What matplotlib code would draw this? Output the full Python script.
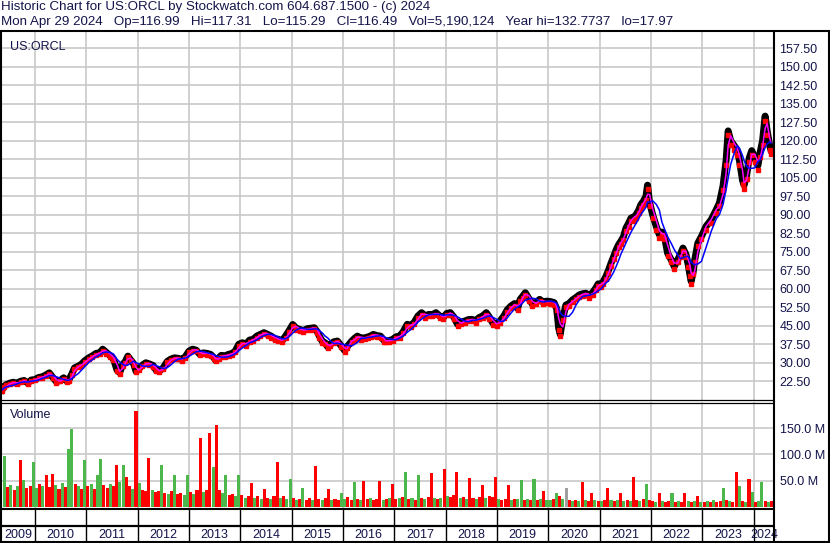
import matplotlib
matplotlib.use("Agg")
import matplotlib.pyplot as plt
import numpy as np
import pandas as pd

# ---------------- data ----------------
price_t = [2009.36, 2009.40, 2009.44, 2009.52, 2009.58, 2009.65, 2009.72, 2009.79, 2009.86, 2009.93,
           2010.00, 2010.07, 2010.14, 2010.21, 2010.28, 2010.35, 2010.42, 2010.49, 2010.56, 2010.62,
           2010.66, 2010.72, 2010.77, 2010.84, 2010.90, 2010.97, 2011.05, 2011.12, 2011.19, 2011.26,
           2011.32, 2011.39, 2011.46, 2011.53, 2011.60, 2011.65, 2011.71, 2011.76, 2011.81, 2011.87,
           2011.92, 2011.97, 2012.02, 2012.09, 2012.16, 2012.23, 2012.30, 2012.36, 2012.42, 2012.50,
           2012.58, 2012.65, 2012.72, 2012.79, 2012.86, 2012.93, 2013.00, 2013.07, 2013.14, 2013.21,
           2013.28, 2013.35, 2013.42, 2013.48, 2013.52, 2013.58, 2013.63, 2013.70, 2013.77, 2013.84,
           2013.90, 2013.97, 2014.04, 2014.11, 2014.18, 2014.25, 2014.32, 2014.39, 2014.46, 2014.53,
           2014.60, 2014.67, 2014.74, 2014.81, 2014.88, 2014.95, 2015.02, 2015.09, 2015.16, 2015.23,
           2015.30, 2015.37, 2015.44, 2015.50, 2015.54, 2015.60, 2015.65, 2015.70, 2015.75, 2015.82,
           2015.89, 2015.96, 2016.03, 2016.08, 2016.17, 2016.23, 2016.28, 2016.35, 2016.42, 2016.49,
           2016.55, 2016.59, 2016.66, 2016.73, 2016.80, 2016.83, 2016.90, 2016.97, 2017.03, 2017.10,
           2017.17, 2017.25, 2017.32, 2017.39, 2017.46, 2017.53, 2017.60, 2017.67, 2017.74, 2017.81,
           2017.88, 2017.95, 2018.02, 2018.09, 2018.16, 2018.23, 2018.30, 2018.37, 2018.44, 2018.51,
           2018.58, 2018.65, 2018.72, 2018.79, 2018.85, 2018.92, 2018.99, 2019.06, 2019.13, 2019.20,
           2019.27, 2019.34, 2019.40, 2019.45, 2019.50, 2019.55, 2019.62, 2019.69, 2019.76, 2019.83,
           2019.90, 2019.97, 2020.04, 2020.11, 2020.16, 2020.20, 2020.23, 2020.28, 2020.34, 2020.40,
           2020.47, 2020.54, 2020.60, 2020.67, 2020.73, 2020.80, 2020.86, 2020.92, 2020.97, 2021.02,
           2021.07, 2021.12, 2021.17, 2021.22, 2021.27, 2021.32, 2021.37, 2021.41, 2021.46, 2021.51,
           2021.56, 2021.61, 2021.66, 2021.71, 2021.76, 2021.80, 2021.85, 2021.90, 2021.93, 2021.97,
           2022.03, 2022.10, 2022.16, 2022.21, 2022.26, 2022.32, 2022.39, 2022.45, 2022.52, 2022.57,
           2022.62, 2022.68, 2022.72, 2022.75, 2022.78, 2022.82, 2022.85, 2022.91, 2022.98, 2023.07,
           2023.17, 2023.27, 2023.33, 2023.40, 2023.46, 2023.50, 2023.55, 2023.62, 2023.68, 2023.72,
           2023.78, 2023.81, 2023.86, 2023.91, 2023.96, 2024.02, 2024.08, 2024.12, 2024.17, 2024.22,
           2024.26, 2024.31, 2024.33]
price_close = [19.0, 20.5, 21.1, 21.8, 22.1, 21.6, 22.5, 22.8, 21.8, 23.0,
               23.2, 24.0, 24.3, 25.0, 25.9, 24.0, 22.3, 22.8, 23.9, 22.6,
               23.0, 25.5, 27.9, 28.6, 29.3, 30.8, 32.0, 32.8, 33.8, 34.0,
               35.5, 34.2, 33.0, 31.5, 27.0, 26.0, 29.3, 30.5, 32.7, 31.0,
               29.7, 26.5, 27.5, 29.0, 30.0, 29.5, 28.9, 27.0, 26.6, 28.0,
               30.6, 31.5, 32.0, 31.8, 31.3, 32.5, 34.7, 35.5, 35.1, 33.5,
               34.0, 33.8, 33.4, 32.2, 31.0, 32.0, 33.0, 32.8, 33.4, 33.8,
               34.7, 37.5, 38.1, 37.5, 39.2, 39.5, 40.8, 41.5, 42.2, 41.5,
               40.8, 39.8, 39.5, 38.8, 40.8, 43.0, 45.5, 44.0, 43.5, 43.0,
               43.8, 44.0, 44.2, 42.5, 40.8, 38.5, 38.1, 36.5, 37.4, 38.5,
               38.8, 37.0, 35.0, 36.5, 38.8, 40.0, 40.8, 40.0, 40.1, 40.5,
               41.0, 41.5, 41.0, 40.8, 39.0, 38.8, 39.0, 39.5, 40.5, 40.8,
               42.5, 45.6, 45.0, 46.5, 49.0, 50.3, 49.0, 49.6, 49.5, 50.3,
               49.0, 48.3, 50.0, 50.3, 48.5, 45.6, 46.5, 46.9, 47.5, 47.6,
               47.0, 48.3, 49.0, 50.3, 48.5, 46.0, 45.6, 47.0, 48.9, 51.5,
               53.0, 54.0, 52.0, 55.7, 57.0, 58.4, 56.0, 53.7, 54.5, 55.7,
               54.5, 55.0, 54.8, 54.4, 52.0, 44.0, 41.5, 48.0, 53.4, 54.0,
               55.5, 56.5, 57.5, 58.0, 58.2, 57.0, 58.5, 60.2, 62.0, 61.6,
               63.0, 65.0, 67.5, 70.4, 73.0, 75.8, 78.0, 79.2, 81.0, 84.6,
               86.5, 88.7, 89.0, 90.1, 92.0, 94.1, 95.5, 97.5, 102.0, 95.0,
               90.0, 85.3, 81.9, 83.0, 81.2, 74.5, 71.8, 69.0, 71.8, 74.0,
               76.5, 73.8, 70.0, 66.3, 63.0, 67.0, 71.8, 78.5, 81.2, 85.3,
               88.0, 92.1, 94.8, 101.6, 112.0, 124.0, 120.0, 118.0, 116.0, 112.0,
               104.0, 102.0, 106.0, 113.0, 116.0, 113.0, 110.0, 115.0, 120.0, 130.0,
               124.0, 118.0, 116.5]

# volume readings, 16 slots per year (millions); colour code g=up, r=down, x=flat
vol_2009 = [98, 38, 42, 33, 40, 90, 52, 36, 40, 86]  # slots 6..15
col_2009 = "grgrgrgrrg"
vol_years = {
    2010: ([36, 44, 40, 60, 38, 62, 42, 34, 45, 38, 110, 148, 44, 40, 35, 90], "grgrrrgrgrggrgrg"),
    2011: ([40, 44, 35, 60, 92, 42, 36, 44, 40, 80, 48, 80, 57, 40, 34, 182], "rgrggrrgrrggrrgr"),
    2012: ([45, 32, 30, 93, 32, 28, 30, 79, 27, 25, 30, 61, 25, 27, 23, 61], "grrrgrrgrgrgrrgg"),
    2013: ([28, 24, 32, 131, 28, 32, 140, 77, 156, 32, 27, 61, 23, 25, 21, 61], "rgrrgrrgrrggrrgg"),
    2014: ([22, 17, 20, 45, 17, 20, 15, 35, 17, 16, 20, 86, 17, 20, 16, 53], "rgrrgrgrrgrrgrgg"),
    2015: ([17, 14, 16, 36, 14, 17, 14, 78, 16, 14, 17, 34, 14, 16, 14, 26], "rgrgrrgrrgrrgrrg"),
    2016: ([16, 19, 14, 48, 16, 14, 49, 15, 17, 14, 16, 49, 14, 16, 17, 43], "grrgrgrrgrrrgrgr"),
    2017: ([16, 17, 19, 67, 16, 18, 14, 61, 17, 16, 19, 64, 17, 15, 18, 73], "rgrgrgrgrgrrgrgr"),
    2018: ([21, 19, 22, 66, 17, 19, 16, 56, 18, 16, 19, 42, 17, 21, 19, 57], "grrrgrgrrgrrgrrr"),
    2019: ([16, 14, 16, 42, 14, 16, 15, 51, 14, 16, 14, 54, 14, 16, 30, 14], "grrrgrggrgrgrgrg"),
    2020: ([14, 16, 26, 20, 15, 36, 14, 12, 14, 12, 47, 13, 12, 26, 13, 12], "grgrgxrgrgrgrrgr"),
    2021: ([12, 13, 36, 13, 12, 13, 26, 12, 13, 11, 57, 13, 11, 15, 43, 13], "grrgrgrgrgrrgrgr"),
    2022: ([11, 10, 26, 11, 10, 11, 26, 10, 11, 10, 26, 11, 10, 11, 20, 10], "rgrgrrgrgrrgrgrg"),
    2023: ([10, 11, 10, 13, 10, 11, 37, 13, 11, 10, 66, 40, 11, 10, 54, 29], "rgrgrrgrgrrgrgrg"),
    2024: ([9, 11, 47, 11, 9, 12], "rggrgr"),
}

price_ticks = [22.5, 30, 37.5, 45, 52.5, 60, 67.5, 75, 82.5, 90, 97.5, 105, 112.5,
               120, 127.5, 135, 142.5, 150, 157.5]
vol_ticks = [50e6, 100e6, 150e6]
years = list(range(2009, 2025))

header1 = "Historic Chart for US:ORCL by Stockwatch.com 604.687.1500 - (c) 2024"
header2 = ("Mon Apr 29 2024   Op=116.99   Hi=117.31   Lo=115.29   Cl=116.49   "
           "Vol=5,190,124   Year hi=132.7737   lo=17.97")

# ---------------- style ----------------
W, H = 830, 543
TXT = "#14144a"
GRID = "#c8c8c8"
FONT = "Liberation Sans"
plt.rcParams["font.family"] = [FONT, "DejaVu Sans"]
COLMAP = {"g": "#4cb84c", "r": "#ff0000", "x": "#a0a0a0"}

fig = plt.figure(figsize=(W / 100, H / 100), dpi=100)
fig.patch.set_facecolor("white")

XMIN, XMAX = 2009.359, 2024.393


def fx(px):
    return px / W


def fy(py):
    return 1 - py / H


ax = fig.add_axes([fx(2), fy(400), fx(772), (400 - 32) / H])
axv = fig.add_axes([fx(2), fy(508), fx(772), (508 - 402) / H], sharex=ax)
axd = fig.add_axes([fx(2), fy(543), fx(772), (543 - 508) / H], sharex=ax)

for a in (ax, axv, axd):
    for s in a.spines.values():
        s.set_visible(False)
    a.set_facecolor("white")

ax.set_xlim(XMIN, XMAX)
ax.set_ylim(14.9, 164.1)

for y in years[1:]:
    ax.axvline(y, color=GRID, lw=1.2, zorder=0)
    axv.axvline(y, color=GRID, lw=1.2, zorder=0)
for v in price_ticks:
    ax.axhline(v, color=GRID, lw=1.2, zorder=0)
for v in vol_ticks:
    axv.axhline(v, color=GRID, lw=1.2, zorder=0)

s = pd.Series(price_close, index=pd.to_datetime(
    [pd.Timestamp(int(t), 1, 1) + pd.Timedelta(days=(t - int(t)) * 365.25) for t in price_t]))
ma_fast = s.rolling("30D").mean()
ma_slow = s.rolling("95D").mean()

ax.plot(price_t, price_close, color="black", lw=5.0, solid_joinstyle="round", zorder=3)
ax.plot(price_t, np.array(price_close) * 0.985, ls="none", marker="s", ms=2.2,
        color="#ff0000", zorder=4)
ax.plot(price_t, ma_fast.values, color="#ff00ff", lw=1.1, zorder=5)
ax.plot(price_t, ma_slow.values, color="#0000ff", lw=1.1, zorder=6)

ax.yaxis.tick_right()
ax.set_yticks(price_ticks)
ax.set_yticklabels([f"{v:.2f}" for v in price_ticks])
ax.tick_params(axis="y", length=0, pad=4, labelsize=9, labelcolor=TXT)
ax.tick_params(axis="x", length=0, labelbottom=False)
ax.text(0.01, 0.975, "US:ORCL", transform=ax.transAxes, ha="left", va="top",
        fontsize=9, color=TXT)

# volume bars
SLOTS = 16
vt, vv, vc = [], [], []
for i, (v, c) in enumerate(zip(vol_2009, col_2009)):
    vt.append(2009 + (i + 6 + 0.5) / SLOTS)
    vv.append(v)
    vc.append(COLMAP[c])
for yr, (vals, cols) in vol_years.items():
    for i, (v, c) in enumerate(zip(vals, cols)):
        vt.append(yr + (i + 0.5) / SLOTS)
        vv.append(v)
        vc.append(COLMAP[c])

axv.set_ylim(-2e6, 200e6)
axv.bar(vt, np.array(vv) * 1e6, width=0.95 / SLOTS, color=vc, align="center", zorder=3,
        linewidth=0)
axv.yaxis.tick_right()
axv.set_yticks(vol_ticks)
axv.set_yticklabels([f"{v / 1e6:.1f} M" for v in vol_ticks])
axv.tick_params(axis="y", length=0, pad=4, labelsize=9, labelcolor=TXT)
axv.tick_params(axis="x", length=0, labelbottom=False)
axv.text(0.01, 0.93, "Volume", transform=axv.transAxes, ha="left", va="top",
         fontsize=9, color=TXT, zorder=5)

axd.set_ylim(0, 1)
axd.set_yticks([])
axd.tick_params(axis="x", length=0, labelbottom=False)
for y in years[1:]:
    axd.axvline(y, color="black", lw=1.0)
axd.axhline(0.5, color="black", lw=1.6)
for y in years:
    lo, hi = max(y, XMIN), min(y + 1, XMAX)
    axd.text((lo + hi) / 2, 0.24, str(y), ha="center", va="center", fontsize=9, color=TXT)

fig.text(fx(1), fy(7), header1, ha="left", va="center", fontsize=9.6, color=TXT)
fig.text(fx(1), fy(21.5), header2, ha="left", va="center", fontsize=9.6, color=TXT)

ov = fig.add_axes([0, 0, 1, 1], zorder=10)
ov.set_xlim(0, W)
ov.set_ylim(H, 0)
ov.axis("off")
ov.patch.set_alpha(0)
bk = dict(color="black", solid_capstyle="butt")
ov.plot([0, W], [31, 31], lw=1.5, **bk)
ov.plot([1, 1], [31, H], lw=1.5, **bk)
ov.plot([W - 1, W - 1], [31, H], lw=1.5, **bk)
ov.plot([774, 774], [31, H], lw=1.5, **bk)
ov.plot([0, 774], [400, 400], lw=0.9, **bk)
ov.plot([0, 774], [402.5, 402.5], lw=0.9, **bk)
ov.plot([0, 774], [508.5, 508.5], lw=1.5, **bk)
ov.plot([0, W], [542, 542], lw=1.5, **bk)

fig.savefig("out.png", dpi=100, facecolor="white")
